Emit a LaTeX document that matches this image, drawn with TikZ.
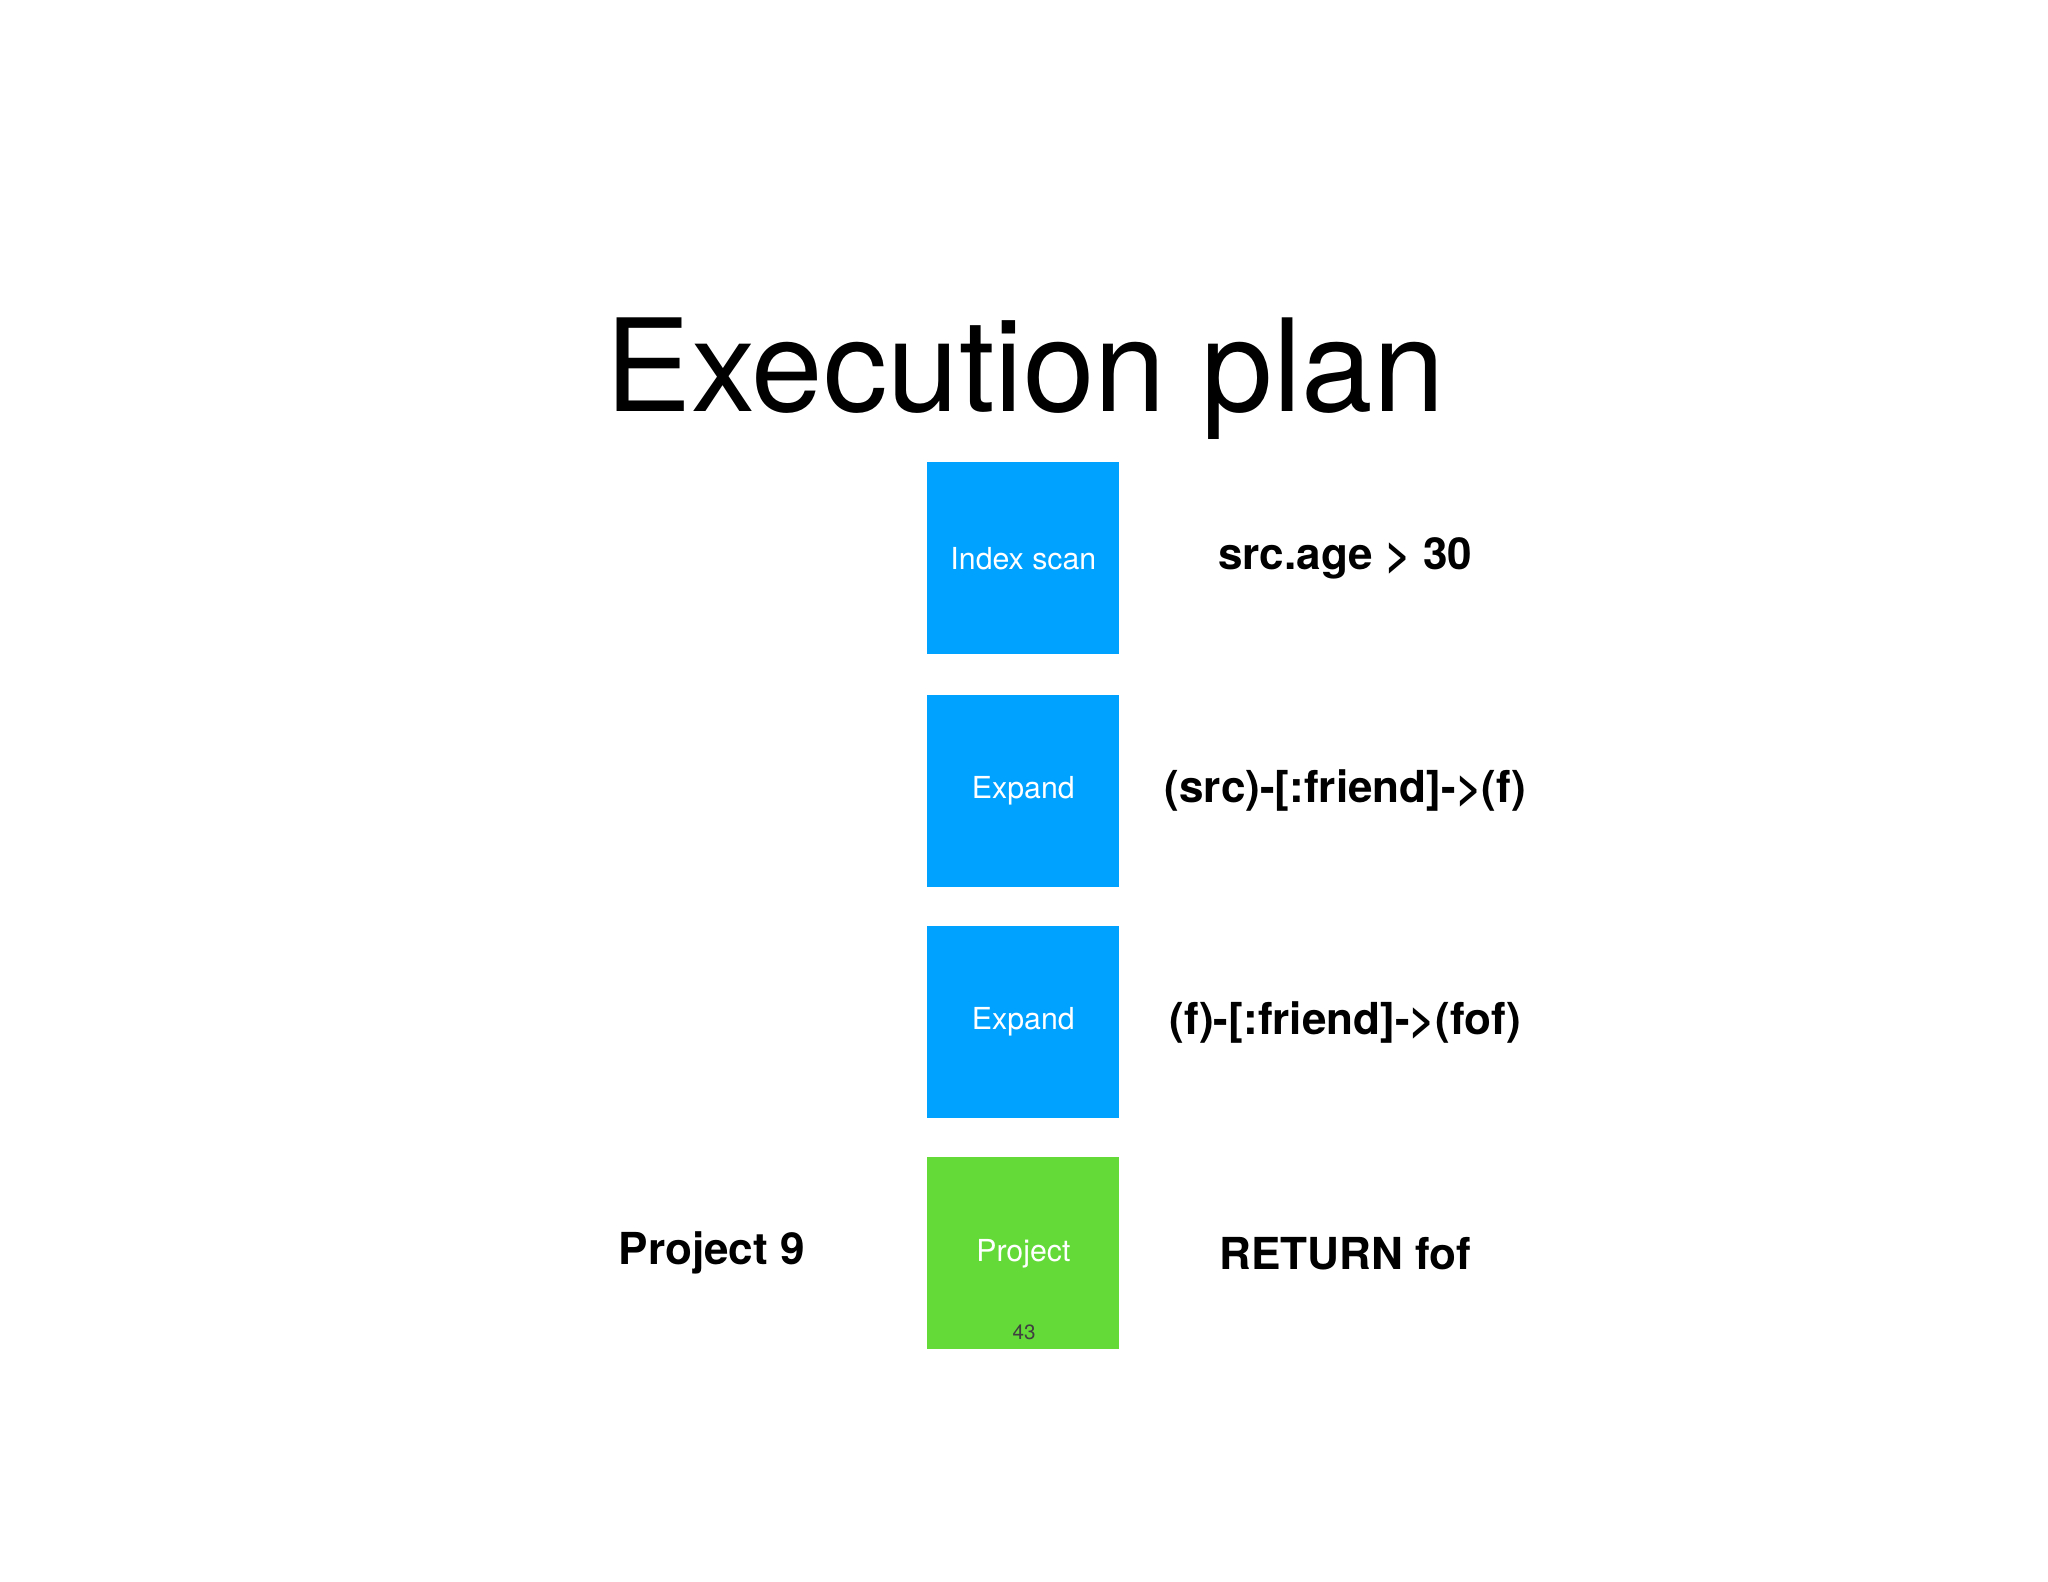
\documentclass[tikz,border=0pt]{standalone}
\usepackage{fontspec}
\setmainfont{TeX Gyre Heros}
\definecolor{planblue}{HTML}{00A2FF}
\definecolor{plangreen}{HTML}{63DA38}
\tikzset{
  opbox/.style={minimum width=1.47cm, minimum height=1.47cm, inner sep=0pt, text=white, font=\fontsize{6.6}{8}\selectfont},
  oplabel/.style={font=\fontsize{9.6}{11}\selectfont\bfseries}
}
\begin{document}
\begin{tikzpicture}
\useasboundingbox (0,0) rectangle (15.68,-12.11);

% タイトル
\node[font=\fontsize{28}{32}\selectfont] (title) at (7.85,-2.9) {Execution plan};

% 演算子(中央)と条件(右側)
\foreach \name/\y/\col/\op/\cond in {
    scan/-4.275/planblue/{Index scan}/{src.age > 30},
    expa/-6.055/planblue/{Expand}/{(src)-[:friend]->(f)},
    expb/-7.825/planblue/{Expand}/{(f)-[:friend]->(fof)},
    proj/-9.595/plangreen/{Project}/{RETURN fof}} {
    \node[opbox, fill=\col] (\name) at (7.835,\y) {\op};
    \node[oplabel] (\name-cond) at (10.3,\y) {\cond};
}

\node[oplabel] (projnum) at (5.45,-9.595) {Project 9};
\node[font=\fontsize{4.5}{5}\selectfont, text=black!75] (page) at (7.84,-10.2) {43};
\end{tikzpicture}
\end{document}
